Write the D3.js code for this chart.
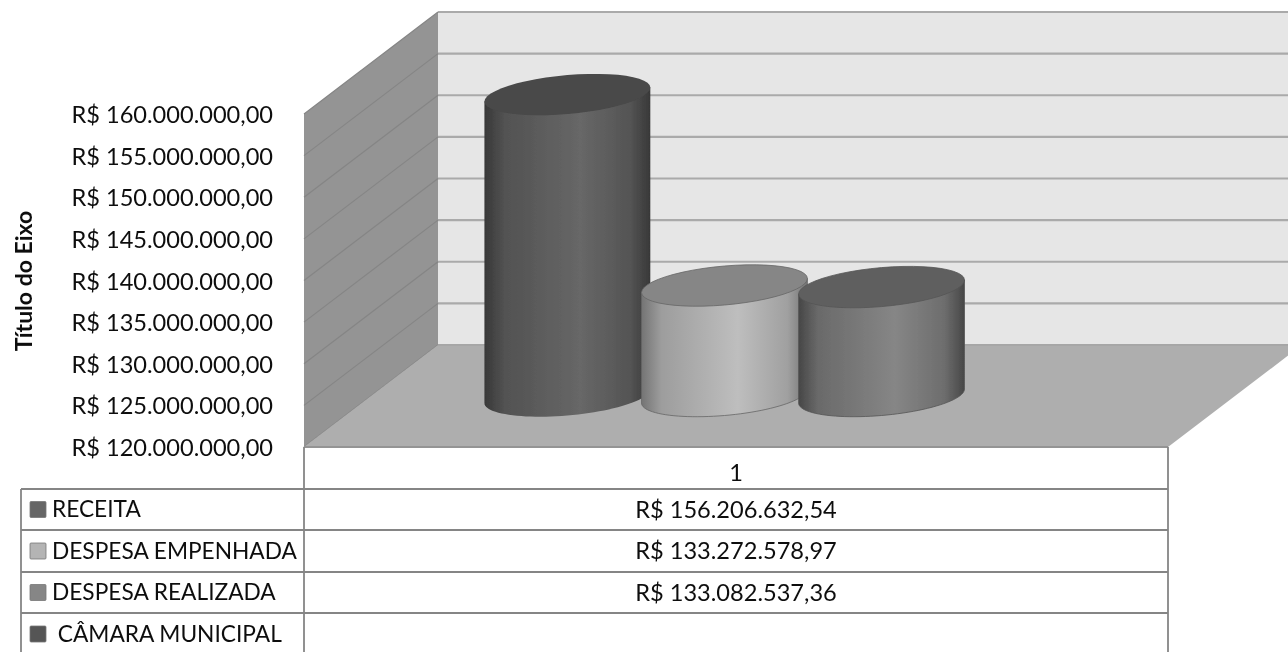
<!DOCTYPE html>
<html>
<head>
<meta charset="utf-8">
<script src="https://cdn.jsdelivr.net/npm/d3@7"></script>
<style>
  html, body { margin: 0; padding: 0; background: #fff; overflow: hidden; }
  text { font-family: Lato, "Open Sans", sans-serif; fill: #111; }
</style>
</head>
<body>
<div id="graphicContainer"></div>
<script>
const seriesNames = ['RECEITA', 'DESPESA EMPENHADA', 'DESPESA REALIZADA', ' CÂMARA MUNICIPAL'];
const seriesValues = [156206632.54, 133272578.97, 133082537.36, null];
const yTicks = [120000000, 125000000, 130000000, 135000000, 140000000, 145000000, 150000000, 155000000, 160000000];
const category = '1';
const axisTitle = 'Título do Eixo';

// side, highlight, top cap, legend key
const shades = [
  { edge: '#383838', mid: '#676767', top: '#484848', key: '#666666', line: 'none' },
  { edge: '#747474', mid: '#bebebe', top: '#868686', key: '#b4b4b4', line: '#666' },
  { edge: '#474747', mid: '#868686', top: '#5f5f5f', key: '#868686', line: '#555' },
  { edge: '#3c3c3c', mid: '#5a5a5a', top: '#4a4a4a', key: '#555555', line: 'none' },
];

const Width = 1288, Height = 652;
const Plot = { l: 304, r: 1168, b: 447, t: 114 };
const Depth = { x: 134, y: -102 };
const rowY = [447, 489, 530, 572, 613, 655];
const tableLeft = 21;
const numberFont = 23.6, labelFont = 22.7;

const brl = d3.formatLocale({ decimal: ',', thousands: '.', grouping: [3], currency: ['R$ ', ''] });
const money = brl.format('$,.2f');

const y = d3.scaleLinear().domain([120000000, 160000000]).range([Plot.b, Plot.t]);
// bars stand half way into the floor
const x = d3.scaleBand().domain(seriesNames)
  .range([Plot.l + Depth.x / 2, Plot.r + Depth.x / 2])
  .paddingInner(0).paddingOuter(0.75);

const svg = d3.select('#graphicContainer').append('svg')
  .attr('width', Width)
  .attr('height', Height)
  .style('display', 'block');

const defs = svg.append('defs');
function softFilter(id, dev) {
  defs.append('filter').attr('id', id)
    .attr('filterUnits', 'userSpaceOnUse')
    .attr('x', 0).attr('y', 0).attr('width', Width).attr('height', Height)
    .append('feGaussianBlur').attr('stdDeviation', dev);
}
softFilter('soft', 0.7);
softFilter('softText', 0.4);
shades.forEach((s, i) => {
  const g = defs.append('linearGradient').attr('id', 'side' + i);
  [[0, s.edge], [0.12, d3.interpolateRgb(s.edge, s.mid)(0.55)], [0.58, s.mid], [0.88, d3.interpolateRgb(s.edge, s.mid)(0.6)], [1, s.edge]]
    .forEach(d => g.append('stop').attr('offset', d[0]).attr('stop-color', d[1]));
});

const chart = svg.append('g').attr('filter', 'url(#soft)');

// back wall
chart.append('rect')
  .attr('x', Plot.l + Depth.x).attr('y', Plot.t + Depth.y)
  .attr('width', Plot.r - Plot.l).attr('height', Plot.b - Plot.t)
  .attr('fill', '#e6e6e6');
chart.selectAll('.backGrid').data(yTicks).enter().append('line')
  .attr('class', 'backGrid')
  .attr('x1', Plot.l + Depth.x).attr('x2', Plot.r + Depth.x)
  .attr('y1', d => y(d) + Depth.y).attr('y2', d => y(d) + Depth.y)
  .attr('stroke', '#aaaaaa').attr('stroke-width', 2.2);

// side wall
chart.append('path')
  .attr('d', d3.line()([
    [Plot.l, Plot.b], [Plot.l + Depth.x, Plot.b + Depth.y],
    [Plot.l + Depth.x, Plot.t + Depth.y], [Plot.l, Plot.t]
  ]) + 'Z')
  .attr('fill', '#949494');
chart.selectAll('.sideGrid').data(yTicks).enter().append('line')
  .attr('class', 'sideGrid')
  .attr('x1', Plot.l).attr('x2', Plot.l + Depth.x)
  .attr('y1', d => y(d)).attr('y2', d => y(d) + Depth.y)
  .attr('stroke', '#858585').attr('stroke-width', 1.2);

// floor
chart.append('path')
  .attr('d', d3.line()([
    [Plot.l, Plot.b], [Plot.l + Depth.x, Plot.b + Depth.y],
    [Plot.r + Depth.x, Plot.b + Depth.y], [Plot.r, Plot.b]
  ]) + 'Z')
  .attr('fill', '#aeaeae');
chart.append('line')
  .attr('x1', Plot.l).attr('x2', Plot.r)
  .attr('y1', Plot.b).attr('y2', Plot.b)
  .attr('stroke', '#949494').attr('stroke-width', 2);
chart.append('line')
  .attr('x1', Plot.l + Depth.x).attr('x2', Plot.r + Depth.x)
  .attr('y1', Plot.b + Depth.y).attr('y2', Plot.b + Depth.y)
  .attr('stroke', '#a4a4a4').attr('stroke-width', 1.5);

// cylinders
const capA = x.bandwidth() * 0.528, capB = 19.5, capTilt = -7;
function ellipsePts(cx, cy, from, to) {
  return d3.range(0, 49).map(i => {
    const t = from + (to - from) * i / 48;
    return [cx + capA * Math.cos(t), cy + capB * Math.sin(t) + capTilt * Math.cos(t)];
  });
}
const line = d3.line();
const bars = seriesNames.map((name, i) => ({ name, value: seriesValues[i], i }))
  .filter(d => d.value != null);
const barG = chart.selectAll('.bar').data(bars).enter().append('g').attr('class', 'bar');
barG.append('path')
  .attr('d', d => {
    const cx = x(d.name) + x.bandwidth() / 2;
    const base = Plot.b + Depth.y / 2;
    const top = y(d.value) + Depth.y / 2;
    // right side of the top, round the bottom, back up the left
    return line([[cx + capA, top + capTilt]]
      .concat(ellipsePts(cx, base, 0, Math.PI))
      .concat([[cx - capA, top - capTilt]])) + 'Z';
  })
  .attr('fill', d => `url(#side${d.i})`)
  .attr('stroke', d => shades[d.i].line).attr('stroke-width', 0.8);
barG.append('path')
  .attr('d', d => line(ellipsePts(x(d.name) + x.bandwidth() / 2, y(d.value) + Depth.y / 2, 0, 2 * Math.PI)) + 'Z')
  .attr('fill', d => shades[d.i].top)
  .attr('stroke', d => shades[d.i].line).attr('stroke-width', 0.8);

// everything with text goes in here, the filter needs an untransformed parent
const labels = svg.append('g').attr('filter', 'url(#softText)');

// data table
const table = labels.append('g').attr('class', 'table');
const tableLine = '#858585';
table.selectAll('.rowLine').data(rowY.slice(1, 5)).enter().append('line')
  .attr('class', 'rowLine')
  .attr('x1', tableLeft).attr('x2', Plot.r)
  .attr('y1', d => d).attr('y2', d => d)
  .attr('stroke', tableLine).attr('stroke-width', 1.8);
[[Plot.l, rowY[0]], [Plot.r, rowY[0]], [tableLeft, rowY[1]]].forEach(d => {
  table.append('line')
    .attr('x1', d[0]).attr('x2', d[0])
    .attr('y1', d[1]).attr('y2', Height)
    .attr('stroke', tableLine).attr('stroke-width', 1.8);
});
const middle = (Plot.l + Plot.r) / 2;
table.append('text')
  .attr('x', middle).attr('y', (rowY[0] + rowY[1]) / 2 + 5)
  .attr('text-anchor', 'middle').attr('dy', '.32em').attr('font-size', numberFont)
  .text(category);
const rows = table.selectAll('.row').data(seriesNames).enter().append('g').attr('class', 'row')
  .attr('transform', (d, i) => `translate(0, ${(rowY[i + 1] + rowY[i + 2]) / 2})`);
rows.append('rect')
  .attr('x', 30).attr('y', -8).attr('width', 16).attr('height', 16).attr('rx', 1)
  .attr('fill', (d, i) => shades[i].key)
  .attr('stroke', '#777').attr('stroke-width', 0.8);
rows.append('text')
  .attr('x', 52).attr('dy', '.34em').attr('font-size', labelFont)
  .style('white-space', 'pre')
  .text(d => d);
rows.append('text')
  .attr('x', middle).attr('dy', '.34em').attr('font-size', numberFont)
  .attr('text-anchor', 'middle')
  .text((d, i) => seriesValues[i] == null ? '' : money(seriesValues[i]));

// value axis
const yAxis = labels.append('g').attr('class', 'yAxis')
  .attr('transform', `translate(${Plot.l}, 1)`)
  .call(d3.axisLeft(y).tickValues(yTicks).tickFormat(money).tickSize(0).tickPadding(31));
yAxis.select('.domain').remove();
yAxis.selectAll('text').attr('font-size', numberFont).style('font-family', 'Lato').style('fill', '#111');

labels.append('text')
  .attr('transform', 'translate(24, 281) rotate(-90)')
  .attr('text-anchor', 'middle').attr('dy', '.34em')
  .attr('font-size', 23).attr('font-weight', 700)
  .text(axisTitle);
</script>
</body>
</html>
